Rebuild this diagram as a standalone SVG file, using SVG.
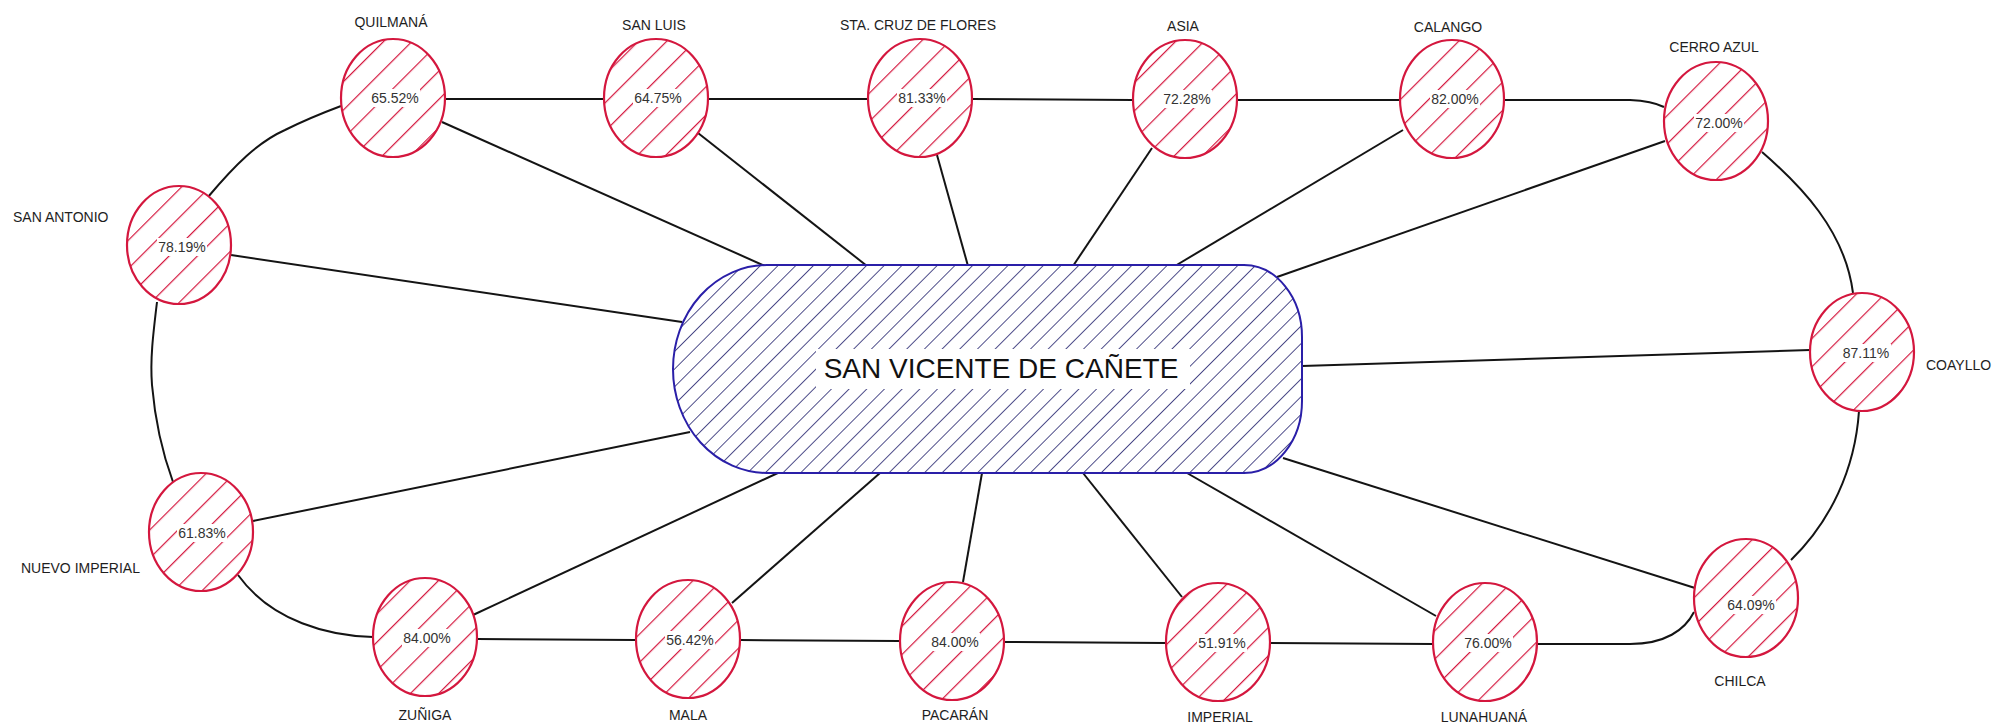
<svg xmlns="http://www.w3.org/2000/svg" width="1995" height="725" viewBox="0 0 1995 725">
<style>
.bg{fill:#ffffff}
.conn{fill:none;stroke:#141414;stroke-width:2}
.nb{fill:#ffffff}
.nh{fill:url(#hatchRed);stroke:#d4173e;stroke-width:2.2}
.lbl{font-family:"Liberation Sans",Arial,sans-serif;font-size:14px;fill:#1e1e1e}
.pct{font-family:"Liberation Sans",Arial,sans-serif;font-size:14px;fill:#333333;text-anchor:middle}
.mid{text-anchor:middle}
.pb{fill:#ffffff}
.pill{fill:url(#hatchBlue);stroke:#2a1fa8;stroke-width:2}
.ptxt{font-family:"Liberation Sans",Arial,sans-serif;font-size:28px;fill:#111111;text-anchor:middle}
</style>
<defs>
<pattern id="hatchRed" patternUnits="userSpaceOnUse" width="20" height="20" patternTransform="rotate(45)">
<line x1="0" y1="0" x2="0" y2="20" stroke="#d4173e" stroke-width="2.4"/>
</pattern>
<pattern id="hatchBlue" patternUnits="userSpaceOnUse" width="12.5" height="12.5" patternTransform="rotate(45)">
<line x1="0" y1="0" x2="0" y2="12.5" stroke="#24226e" stroke-width="1.6"/>
</pattern>
</defs>
<rect class="bg" x="0" y="0" width="1995" height="725"/>

<g id="connectors">
<!-- ring -->
<path class="conn" d="M445 99 L604 99"/>
<path class="conn" d="M708 99 L868 99"/>
<path class="conn" d="M972 99 L1133 100"/>
<path class="conn" d="M1237 100 L1400 100"/>
<path class="conn" d="M1504 100 L1630 100 Q1652 101 1664 107"/>
<path class="conn" d="M1762 152 C1800 185 1845 230 1853 293"/>
<path class="conn" d="M1859 411 C1855 470 1830 522 1791 560"/>
<path class="conn" d="M1537 644 L1630 644 C1665 644 1685 630 1694 612"/>
<path class="conn" d="M1270 643 L1433 644"/>
<path class="conn" d="M1004 642 L1166 643"/>
<path class="conn" d="M740 640 L900 641"/>
<path class="conn" d="M477 639 L636 640"/>
<path class="conn" d="M373 637 C330 636 272 622 238 575"/>
<path class="conn" d="M157 302 C153 335 150 360 152 385 C155 420 162 452 173 482"/>
<path class="conn" d="M208 197 C235 165 258 142 285 130 C305 120 325 112 341 106"/>
<!-- spokes -->
<path class="conn" d="M442 122 L765 266"/>
<path class="conn" d="M698 133 L867 266"/>
<path class="conn" d="M937 155 L968 266"/>
<path class="conn" d="M1152 148 L1073 266"/>
<path class="conn" d="M1403 130 L1175 266"/>
<path class="conn" d="M1665 141 L1277 277"/>
<path class="conn" d="M1302 366 L1810 350"/>
<path class="conn" d="M1283 458 L1695 588"/>
<path class="conn" d="M1187 473 L1436 616"/>
<path class="conn" d="M1083 473 L1182 597"/>
<path class="conn" d="M982 473 L963 582"/>
<path class="conn" d="M880 473 L732 603"/>
<path class="conn" d="M780 472 L473 615"/>
<path class="conn" d="M690 432 L253 521"/>
<path class="conn" d="M682 322 L231 255"/>
</g>

<g id="n-san-vicente">
<path class="pb" d="M767 265 L1244 265 A58 72 0 0 1 1302 337 L1302 401 A58 72 0 0 1 1244 473 L767 473 A94 104 0 0 1 767 265 Z"/>
<path class="pill" d="M767 265 L1244 265 A58 72 0 0 1 1302 337 L1302 401 A58 72 0 0 1 1244 473 L767 473 A94 104 0 0 1 767 265 Z"/>
<rect class="pb" x="816" y="349" width="374" height="40"/>
<text class="ptxt" x="1001" y="378">SAN VICENTE DE CAÑETE</text>
</g>

<g id="n-quilmana">
<ellipse class="nb" cx="393" cy="98" rx="52" ry="59"/>
<ellipse class="nh" cx="393" cy="98" rx="52" ry="59"/>
<rect class="pb" x="370" y="89" width="50" height="18"/>
<text class="pct" x="395" y="103">65.52%</text>
<text class="lbl mid" x="391" y="27">QUILMANÁ</text>
</g>

<g id="n-san-luis">
<ellipse class="nb" cx="656" cy="98" rx="52" ry="59"/>
<ellipse class="nh" cx="656" cy="98" rx="52" ry="59"/>
<rect class="pb" x="633" y="89" width="50" height="18"/>
<text class="pct" x="658" y="103">64.75%</text>
<text class="lbl mid" x="654" y="30">SAN LUIS</text>
</g>

<g id="n-sta-cruz">
<ellipse class="nb" cx="920" cy="98" rx="52" ry="59"/>
<ellipse class="nh" cx="920" cy="98" rx="52" ry="59"/>
<rect class="pb" x="897" y="89" width="50" height="18"/>
<text class="pct" x="922" y="103">81.33%</text>
<text class="lbl mid" x="918" y="30">STA. CRUZ DE FLORES</text>
</g>

<g id="n-asia">
<ellipse class="nb" cx="1185" cy="99" rx="52" ry="59"/>
<ellipse class="nh" cx="1185" cy="99" rx="52" ry="59"/>
<rect class="pb" x="1162" y="90" width="50" height="18"/>
<text class="pct" x="1187" y="104">72.28%</text>
<text class="lbl mid" x="1183" y="31">ASIA</text>
</g>

<g id="n-calango">
<ellipse class="nb" cx="1452" cy="99" rx="52" ry="59"/>
<ellipse class="nh" cx="1452" cy="99" rx="52" ry="59"/>
<rect class="pb" x="1430" y="90" width="50" height="18"/>
<text class="pct" x="1455" y="104">82.00%</text>
<text class="lbl mid" x="1448" y="32">CALANGO</text>
</g>

<g id="n-cerro-azul">
<ellipse class="nb" cx="1716" cy="121" rx="52" ry="59"/>
<ellipse class="nh" cx="1716" cy="121" rx="52" ry="59"/>
<rect class="pb" x="1694" y="114" width="50" height="18"/>
<text class="pct" x="1719" y="128">72.00%</text>
<text class="lbl mid" x="1714" y="52">CERRO AZUL</text>
</g>

<g id="n-san-antonio">
<ellipse class="nb" cx="179" cy="245" rx="52" ry="59"/>
<ellipse class="nh" cx="179" cy="245" rx="52" ry="59"/>
<rect class="pb" x="157" y="238" width="50" height="18"/>
<text class="pct" x="182" y="252">78.19%</text>
<text class="lbl" x="13" y="222">SAN ANTONIO</text>
</g>

<g id="n-coayllo">
<ellipse class="nb" cx="1862" cy="352" rx="52" ry="59"/>
<ellipse class="nh" cx="1862" cy="352" rx="52" ry="59"/>
<rect class="pb" x="1841" y="344" width="50" height="18"/>
<text class="pct" x="1866" y="358">87.11%</text>
<text class="lbl" x="1926" y="370">COAYLLO</text>
</g>

<g id="n-nuevo-imperial">
<ellipse class="nb" cx="201" cy="532" rx="52" ry="59"/>
<ellipse class="nh" cx="201" cy="532" rx="52" ry="59"/>
<rect class="pb" x="177" y="524" width="50" height="18"/>
<text class="pct" x="202" y="538">61.83%</text>
<text class="lbl" x="140" y="573" text-anchor="end">NUEVO IMPERIAL</text>
</g>

<g id="n-chilca">
<ellipse class="nb" cx="1746" cy="598" rx="52" ry="59"/>
<ellipse class="nh" cx="1746" cy="598" rx="52" ry="59"/>
<rect class="pb" x="1726" y="596" width="50" height="18"/>
<text class="pct" x="1751" y="610">64.09%</text>
<text class="lbl mid" x="1740" y="686">CHILCA</text>
</g>

<g id="n-zuniga">
<ellipse class="nb" cx="425" cy="637" rx="52" ry="59"/>
<ellipse class="nh" cx="425" cy="637" rx="52" ry="59"/>
<rect class="pb" x="402" y="629" width="50" height="18"/>
<text class="pct" x="427" y="643">84.00%</text>
<text class="lbl mid" x="425" y="720">ZUÑIGA</text>
</g>

<g id="n-mala">
<ellipse class="nb" cx="688" cy="639" rx="52" ry="59"/>
<ellipse class="nh" cx="688" cy="639" rx="52" ry="59"/>
<rect class="pb" x="665" y="631" width="50" height="18"/>
<text class="pct" x="690" y="645">56.42%</text>
<text class="lbl mid" x="688" y="720">MALA</text>
</g>

<g id="n-pacaran">
<ellipse class="nb" cx="952" cy="641" rx="52" ry="59"/>
<ellipse class="nh" cx="952" cy="641" rx="52" ry="59"/>
<rect class="pb" x="930" y="633" width="50" height="18"/>
<text class="pct" x="955" y="647">84.00%</text>
<text class="lbl mid" x="955" y="720">PACARÁN</text>
</g>

<g id="n-imperial">
<ellipse class="nb" cx="1218" cy="642" rx="52" ry="59"/>
<ellipse class="nh" cx="1218" cy="642" rx="52" ry="59"/>
<rect class="pb" x="1197" y="634" width="50" height="18"/>
<text class="pct" x="1222" y="648">51.91%</text>
<text class="lbl mid" x="1220" y="722">IMPERIAL</text>
</g>

<g id="n-lunahuana">
<ellipse class="nb" cx="1485" cy="642" rx="52" ry="59"/>
<ellipse class="nh" cx="1485" cy="642" rx="52" ry="59"/>
<rect class="pb" x="1463" y="634" width="50" height="18"/>
<text class="pct" x="1488" y="648">76.00%</text>
<text class="lbl mid" x="1484" y="722">LUNAHUANÁ</text>
</g>
</svg>
